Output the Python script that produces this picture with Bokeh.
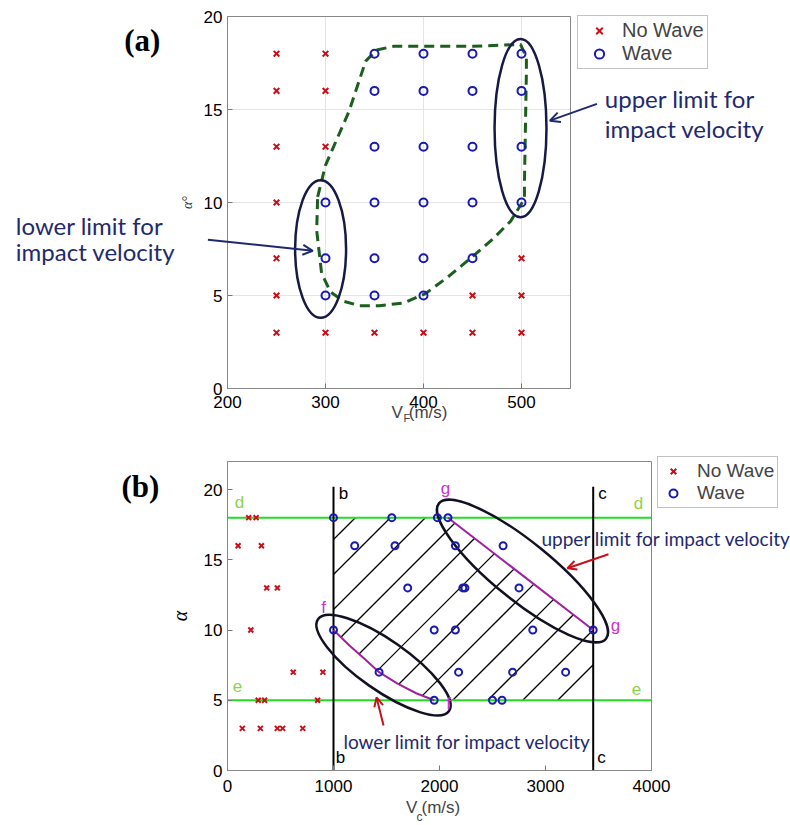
from bokeh.plotting import figure
from bokeh.models import (Range1d, Label, Arrow, OpenHead, Legend, LegendItem, FixedTicker,
                          BoxAnnotation)
from bokeh.layouts import column
from bokeh.embed import file_html
from bokeh.resources import INLINE

# ---------------- Panel (a) data ----------------
a_nowave_x = [250, 250, 250, 250, 250, 250, 250, 300, 300, 300, 300, 350, 400, 450, 450, 500, 500, 500]
a_nowave_y = [3, 5, 7, 10, 13, 16, 18, 3, 13, 16, 18, 3, 3, 3, 5, 3, 5, 7]
a_wave_x = [300, 300, 300, 350, 350, 350, 350, 350, 350, 400, 400, 400, 400, 400, 400,
            450, 450, 450, 450, 450, 500, 500, 500, 500]
a_wave_y = [5, 7, 10, 5, 7, 10, 13, 16, 18, 5, 7, 10, 13, 16, 18, 7, 10, 13, 16, 18, 10, 13, 16, 18]
a_bound_x = [292, 300, 324, 341, 352, 370, 450, 499, 505, 505, 504, 503, 503, 489, 470, 448, 425,
             402, 380, 355, 335, 318, 305, 296, 291, 292]
a_bound_y = [10.3, 12, 14.9, 17.6, 18.2, 18.4, 18.4, 18.5, 17.8, 17.0, 14, 11, 10.2, 9.0, 8.0, 7.0,
             6.0, 5.1, 4.6, 4.45, 4.45, 4.7, 5.2, 6.2, 8.5, 10.3]
a_ell_x = [295, 499]
a_ell_y = [7.5, 14.0]
a_ell_w = [52, 53]
a_ell_h = [7.4, 9.6]
a_xlim = (200, 550)
a_ylim = (0, 20)
a_xticks = [200, 300, 400, 500]
a_yticks = [0, 5, 10, 15, 20]

# ---------------- Panel (b) data ----------------
b_nowave_x = [200, 270, 100, 320, 370, 470, 220, 620, 900, 290, 350, 850, 140, 310, 470, 520, 710]
b_nowave_y = [18, 18, 16, 16, 13, 13, 10, 7, 7, 5, 5, 5, 3, 3, 3, 3, 3]
b_wave_x = [1000, 1550, 1980, 2080, 1200, 1580, 2150, 2600, 1700, 2220, 2240, 2750,
            1000, 1950, 2150, 2880, 3450, 1430, 2180, 2690, 3190, 1950, 2500, 2590]
b_wave_y = [18, 18, 18, 18, 16, 16, 16, 16, 13, 13, 13, 13,
            10, 10, 10, 10, 10, 7, 7, 7, 7, 5, 5, 5]
b_line_b = 1000
b_line_c = 3450
b_line_d = 18
b_line_e = 5
b_f_x = [1000, 1150, 1300, 1430, 1600, 1780, 1950]
b_f_y = [10, 8.9, 7.9, 7.0, 6.2, 5.5, 5.0]
b_g_x = [2080, 3450]
b_g_y = [18, 10]
b_ell_x = [1472, 2783]
b_ell_y = [7.5, 14.2]
b_ell_w = [160, 215]
b_ell_h = [50, 58]
b_ell_angle = [-35, -39]
b_xlim = (0, 4000)
b_ylim = (0, 22)
b_xticks = [0, 1000, 2000, 3000, 4000]
b_yticks = [0, 5, 10, 15, 20]

RED = "#c8101a"
BLUE = "#1a1ab0"
NAVY = "#1f2a6e"
TICKFONT = "Liberation Sans"
NOTEFONT = "Lato"
W = 790
A_H, B_H = 445, 378
A_BOX = (227, 570, 16, 388)   # left, right, top, bottom of the axes box (px inside figure)
B_BOX = (227, 651, 16, 325)


def scales(xlim, ylim, box):
    l, r, t, b = box
    return (r - l) / (xlim[1] - xlim[0]), (b - t) / (ylim[1] - ylim[0])


def make_fig(height, xlim, ylim, box):
    l, r, t, b = box
    sx, sy = scales(xlim, ylim, box)
    xr = Range1d(xlim[0] - l / sx, xlim[0] + (W - l) / sx)
    yr = Range1d(ylim[0] - (height - b) / sy, ylim[0] + b / sy)
    p = figure(width=W, height=height, output_backend="svg", toolbar_location=None,
               x_range=xr, y_range=yr, min_border=0)
    p.outline_line_color = None
    p.grid.grid_line_color = None
    return p


def style_axes(p, xlim, ylim, xt, yt, xstandoff):
    p.xaxis.ticker = FixedTicker(ticks=xt)
    p.yaxis.ticker = FixedTicker(ticks=yt)
    p.xaxis.fixed_location = ylim[0]
    p.yaxis.fixed_location = xlim[0]
    p.xaxis.bounds = xlim
    p.yaxis.bounds = ylim
    for ax in (p.xaxis[0], p.yaxis[0]):
        ax.major_tick_in = 5
        ax.major_tick_out = 0
        ax.minor_tick_line_color = None
        ax.major_label_text_font = TICKFONT
        ax.major_label_text_font_size = "17px"
        ax.major_label_text_color = "black"
        ax.axis_line_color = "#777777"
        ax.major_tick_line_color = "#777777"
    p.xaxis.major_label_standoff = xstandoff
    p.yaxis.major_label_standoff = 5
    p.add_layout(BoxAnnotation(left=xlim[0], right=xlim[1], bottom=ylim[0], top=ylim[1],
                               fill_alpha=0, line_color="#888888", line_width=1, line_alpha=1))


def hatch_segments(px, py, sx, sy, phase, step):
    """45-degree (on screen) hatch lines clipped to a convex polygon."""
    kv = [sx * x - sy * y for x, y in zip(px, py)]
    n = len(px)
    kmin, kmax = min(kv), max(kv)
    j = int((kmin - phase) // step) + 1
    x0s, y0s, x1s, y1s = [], [], [], []
    while phase + j * step < kmax:
        K = phase + j * step
        pts = []
        for i in range(n):
            a, b = i, (i + 1) % n
            ka, kb = kv[a], kv[b]
            if (ka - K) * (kb - K) <= 0 and ka != kb:
                t = (K - ka) / (kb - ka)
                pts.append((px[a] + t * (px[b] - px[a]), py[a] + t * (py[b] - py[a])))
        if len(pts) >= 2:
            pts.sort()
            x0s.append(pts[0][0]); y0s.append(pts[0][1])
            x1s.append(pts[-1][0]); y1s.append(pts[-1][1])
        j += 1
    return x0s, y0s, x1s, y1s


# ================= Figure (a) =================
pa = make_fig(A_H, a_xlim, a_ylim, A_BOX)
pa.segment(a_xticks[1:], [a_ylim[0]] * 3, a_xticks[1:], [a_ylim[1]] * 3,
           line_color="#e4e4e4", line_width=1)
pa.segment([a_xlim[0]] * 3, a_yticks[1:4], [a_xlim[1]] * 3, a_yticks[1:4],
           line_color="#e4e4e4", line_width=1)
style_axes(pa, a_xlim, a_ylim, a_xticks, a_yticks, 7)
pa.yaxis.axis_label = "α°"
pa.yaxis.axis_label_text_font = "Liberation Serif"
pa.yaxis.axis_label_text_font_style = "italic"
pa.yaxis.axis_label_text_font_size = "14px"
pa.yaxis.axis_label_standoff = 6
pa.yaxis.axis_label_text_color = "#333333"

pa.line(a_bound_x, a_bound_y, line_color="#1c5e1c", line_width=3, line_dash="10 6")
ra_no = pa.scatter(a_nowave_x, a_nowave_y, marker="x", size=8, line_color=RED, line_width=2)
ra_w = pa.scatter(a_wave_x, a_wave_y, marker="circle", size=8, fill_color=None,
                  line_color=BLUE, line_width=2)
pa.ellipse(a_ell_x, a_ell_y, width=a_ell_w, height=a_ell_h, fill_color=None,
           line_color="#161a45", line_width=2.5)

pa.add_layout(Arrow(end=OpenHead(size=10, line_color=NAVY, line_width=2),
                    x_start=180, y_start=8.0, x_end=287, y_end=7.4, line_color=NAVY, line_width=2))
pa.add_layout(Arrow(end=OpenHead(size=10, line_color=NAVY, line_width=2),
                    x_start=577, y_start=15.3, x_end=529, y_end=14.4, line_color=NAVY, line_width=2))

for txt, x, y in [("lower limit for", -16, 8.76), ("impact velocity", -16, 7.37),
                  ("upper limit for", 585, 15.6), ("impact velocity", 585, 14.0)]:
    pa.add_layout(Label(x=x, y=y, text=txt, text_font=NOTEFONT, text_font_size="24px",
                        text_color=NAVY, text_baseline="middle", text_align="left"))

pa.add_layout(Label(x=113, y=18.7, text="(a)", text_font="Liberation Serif",
                    text_font_style="bold", text_font_size="31px", text_color="black",
                    text_align="center", text_baseline="middle"))
pa.add_layout(Label(x=379, y=-1.29, text="V", text_font=TICKFONT, text_font_size="17px",
                    text_align="right", text_baseline="middle"))
pa.add_layout(Label(x=379.5, y=-1.6, text="F", text_font=TICKFONT, text_font_size="11px",
                    text_align="left", text_baseline="middle"))
pa.add_layout(Label(x=385, y=-1.29, text="(m/s)", text_font=TICKFONT, text_font_size="17px",
                    text_align="left", text_baseline="middle"))

leg_a = Legend(items=[LegendItem(label="No Wave", renderers=[ra_no]),
                      LegendItem(label="Wave", renderers=[ra_w])],
               location=(577, A_H - 69), label_text_font=TICKFONT, label_text_font_size="20px",
               border_line_color="#888888", border_line_width=1.5, padding=3, spacing=0,
               label_height=23, glyph_height=23, glyph_width=36, margin=0,
               label_standoff=5, background_fill_alpha=1)
pa.add_layout(leg_a, "center")

# ================= Figure (b) =================
pb = make_fig(B_H, b_xlim, b_ylim, B_BOX)
style_axes(pb, b_xlim, b_ylim, b_xticks, b_yticks, 9)
pb.yaxis.axis_label = "α"
pb.yaxis.axis_label_text_font = "Liberation Serif"
pb.yaxis.axis_label_text_font_style = "italic"
pb.yaxis.axis_label_text_font_size = "20px"
pb.yaxis.axis_label_standoff = 10
pb.yaxis.axis_label_text_color = "black"

# hatched feasible region (outline: b-line, d-line, g-line, c-line, e-line, f-curve)
hx = [b_line_b] + [b_line_b] + b_g_x + [b_line_c] + b_f_x[::-1]
hy = [b_f_y[0]] + [b_line_d] + b_g_y + [b_line_e] + b_f_y[::-1]
bsx, bsy = scales(b_xlim, b_ylim, B_BOX)
phase = 872 - A_H - B_BOX[0] - B_BOX[3]
hx0, hy0, hx1, hy1 = hatch_segments(hx, hy, bsx, bsy, phase, 35)
pb.segment(hx0, hy0, hx1, hy1, line_color="black", line_width=1.3)

pb.line(list(b_xlim), [b_line_d, b_line_d], line_color="#22dd22", line_width=2)
pb.line(list(b_xlim), [b_line_e, b_line_e], line_color="#22dd22", line_width=2)
pb.line([b_line_b, b_line_b], [0, 20.2], line_color="black", line_width=2)
pb.line([b_line_c, b_line_c], [0, 20.2], line_color="black", line_width=2)
pb.line(b_f_x, b_f_y, line_color="#a020a0", line_width=2)
pb.line(b_g_x, b_g_y, line_color="#a020a0", line_width=2)
pb.ellipse(b_ell_x, b_ell_y, width=b_ell_w, height=b_ell_h, angle=b_ell_angle,
           angle_units="deg", width_units="screen", height_units="screen",
           fill_color=None, line_color="#111122", line_width=2.5)
rb_no = pb.scatter(b_nowave_x, b_nowave_y, marker="x", size=7, line_color=RED, line_width=2)
rb_w = pb.scatter(b_wave_x, b_wave_y, marker="circle", size=7, fill_color=None,
                  line_color=BLUE, line_width=2)

for txt, x, y, col in [("d", 113, 19.1, "#8cd24a"), ("d", 3877, 19.0, "#8cd24a"),
                       ("e", 94, 6.0, "#8cd24a"), ("e", 3858, 5.8, "#8cd24a"),
                       ("b", 1094, 19.7, "black"), ("b", 1066, 0.9, "black"),
                       ("c", 3538, 19.7, "black"), ("c", 3528, 0.9, "black"),
                       ("f", 906, 11.6, "#cc33cc"), ("f", 2085, 4.8, "#cc33cc"),
                       ("g", 2057, 20.1, "#cc33cc"), ("g", 3660, 10.3, "#cc33cc")]:
    pb.add_layout(Label(x=x, y=y, text=txt, text_font=TICKFONT, text_font_size="17px",
                        text_color=col, text_align="center", text_baseline="middle"))

pb.add_layout(Arrow(end=OpenHead(size=9, line_color=RED, line_width=2),
                    x_start=3594, y_start=15.4, x_end=3207, y_end=14.4, line_color=RED, line_width=2))
pb.add_layout(Arrow(end=OpenHead(size=9, line_color=RED, line_width=2),
                    x_start=1472, y_start=3.2, x_end=1406, y_end=5.2, line_color=RED, line_width=2))
pb.add_layout(Label(x=2962, y=16.5, text="upper limit for impact velocity", text_font=NOTEFONT,
                    text_font_size="19px", text_color=NAVY, text_align="left", text_baseline="middle"))
pb.add_layout(Label(x=1094, y=2.1, text="lower limit for impact velocity", text_font=NOTEFONT,
                    text_font_size="19px", text_color=NAVY, text_align="left", text_baseline="middle"))

pb.add_layout(Label(x=-821, y=20.2, text="(b)", text_font="Liberation Serif",
                    text_font_style="bold", text_font_size="31px", text_color="black",
                    text_align="center", text_baseline="middle"))
pb.add_layout(Label(x=1792, y=-2.6, text="V", text_font=TICKFONT, text_font_size="17px",
                    text_align="right", text_baseline="middle"))
pb.add_layout(Label(x=1783, y=-3.3, text="c", text_font=TICKFONT, text_font_size="12px",
                    text_align="left", text_baseline="middle"))
pb.add_layout(Label(x=1830, y=-2.6, text="(m/s)", text_font=TICKFONT, text_font_size="17px",
                    text_align="left", text_baseline="middle"))

leg_b = Legend(items=[LegendItem(label="No Wave", renderers=[rb_no]),
                      LegendItem(label="Wave", renderers=[rb_w])],
               location=(657, B_H - 63), label_text_font=TICKFONT, label_text_font_size="19px",
               border_line_color="#888888", border_line_width=1.5, padding=3, spacing=0,
               label_height=20, glyph_height=20, glyph_width=24, margin=0,
               label_standoff=12, background_fill_alpha=1)
pb.add_layout(leg_b, "center")

layout = column(pa, pb, spacing=0)
open("out.html", "w").write(file_html(layout, INLINE))
